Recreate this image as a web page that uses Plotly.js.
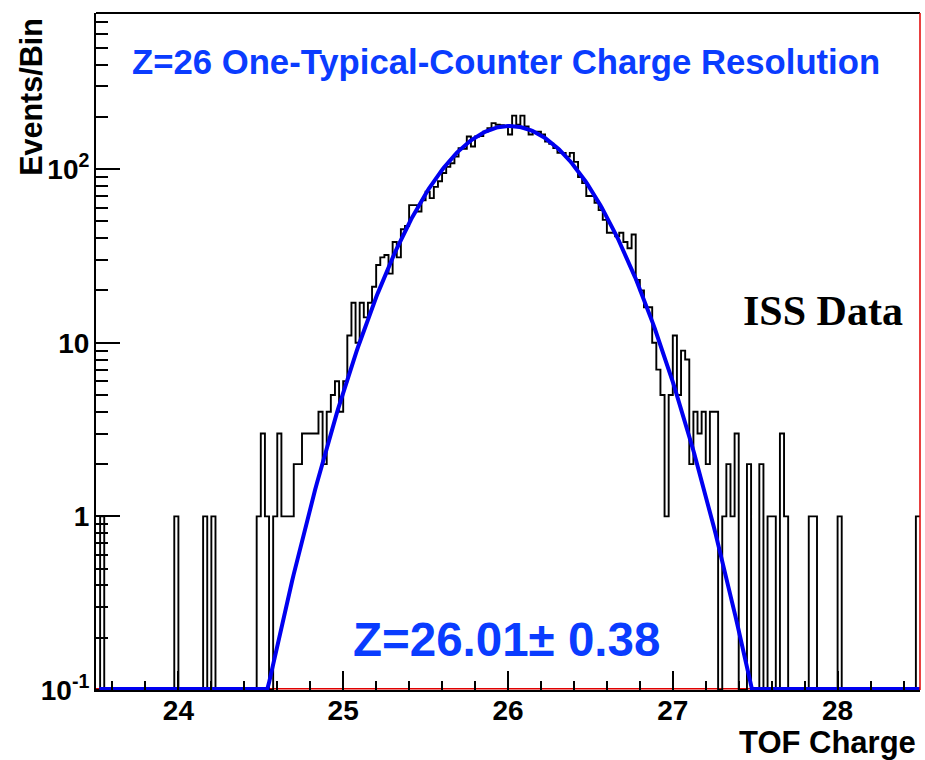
<!DOCTYPE html>
<html>
<head>
<meta charset="utf-8">
<script src="https://cdn.plot.ly/plotly-3.0.1.min.js"></script>
<style>
html,body{margin:0;padding:0;background:#ffffff;}
#chart{width:925px;height:760px;}
</style>
</head>
<body>
<div id="chart"></div>
<script>
// Histogram definition: 200 bins from 23.5 to 28.5 (TOF Charge)
const binLow = 23.5;
const binHigh = 28.5;
const nBins = 200;
// Events per bin (bin 0 .. bin 199)
const counts = [
  0,1,0,0,0,0,0,0,0,0,   0,0,0,0,0,0,0,0,0,1,
  0,0,0,0,0,0,1,0,1,0,   0,0,0,0,0,0,0,0,0,1,
  3,1,0,1,3,1,1,1,2,2,   3,3,3,3,4,2,4,5,6,4,
  6,11,17,10,17,14,17,21,28,31,  32,25,38,31,45,47,62,62,57,66,
  74,68,79,85,95,103,108,118,132,131,  154,135,154,155,164,172,184,180,179,177,
  158,203,180,203,176,158,164,164,158,144,  140,132,124,124,118,124,110,90,83,70,
  70,64,58,51,43,43,41,43,38,35,  42,23,20,16,16,10,7,5,1,5,
  11,5,9,8,2,4,3,4,2,4,   4,0,1,2,1,3,0,0,2,0,
  0,2,0,1,1,0,3,1,0,0,   0,0,0,1,1,0,0,0,0,0,
  1,0,0,0,0,0,0,0,0,0,   0,0,0,0,0,0,0,0,0,1
];
// Gaussian fit result shown on the chart
const fitAmplitude = 177;
const fitMean = 26.01;
const fitSigma = 0.38;

const titleText = 'Z=26 One-Typical-Counter Charge Resolution';
const fitLabel = 'Z=26.01\u00b1 0.38';
const dataLabel = 'ISS Data';
const xTitle = 'TOF Charge';
const yTitle = 'Events/Bin';
const xTickVals = [24, 25, 26, 27, 28];
const xTickText = ['24', '25', '26', '27', '28'];
const yTickVals = [0.1, 1, 10, 100];
const yTickText = ['10<sup>-1</sup>', '1', '10', '10<sup>2</sup>'];
const yMin = 0.1, yMax = 792;

// ---- build traces ----
const binW = (binHigh - binLow) / nBins;
const hx = [], hy = [];
for (let i = 0; i < nBins; i++) {
  hx.push(binLow + i * binW);
  hy.push(counts[i] > 0 ? counts[i] : yMin); // empty bins drawn on the frame floor (as ROOT does)
}
hx.push(binHigh);
hy.push(counts[nBins - 1] > 0 ? counts[nBins - 1] : yMin);

const fx = [], fy = [];
for (let x = binLow + 0.02; x <= binHigh + 1e-9; x += 0.01) {
  const v = fitAmplitude * Math.exp(-0.5 * Math.pow((x - fitMean) / fitSigma, 2));
  fx.push(x);
  fy.push(Math.max(v, yMin * 1.015));
}

const histTrace = {
  x: hx, y: hy, type: 'scatter', mode: 'lines',
  line: {shape: 'hv', color: '#000000', width: 1.9},
  hoverinfo: 'skip'
};
const fitTrace = {
  x: fx, y: fy, type: 'scatter', mode: 'lines',
  line: {color: '#0000f0', width: 4},
  hoverinfo: 'skip'
};

const minorY = [];
[0.1, 1, 10, 100].forEach(d => { for (let k = 2; k <= 9; k++) { const v = d * k; if (v < yMax) minorY.push(v); } });

const axisFont = {family: 'Liberation Sans, Arial, sans-serif', size: 28, color: '#000', weight: 'bold'};

const layout = {
  width: 925, height: 760,
  margin: {l: 96, r: 5, t: 13, b: 70, pad: 0},
  paper_bgcolor: '#ffffff', plot_bgcolor: '#ffffff',
  showlegend: false,
  xaxis: {
    range: [binLow, binHigh], tickmode: 'array', tickvals: xTickVals, ticktext: xTickText,
    ticks: 'inside', ticklen: 19, tickwidth: 2, tickcolor: '#000',
    minor: {dtick: 0.2, tick0: 23.6, ticks: 'inside', ticklen: 9, tickwidth: 2, tickcolor: '#000', showgrid: false},
    showgrid: false, zeroline: false, showline: true, linecolor: '#000', linewidth: 2,
    tickfont: axisFont, ticklabelstandoff: -6
  },
  yaxis: {
    type: 'log', range: [Math.log10(yMin), Math.log10(yMax)],
    tickmode: 'array', tickvals: yTickVals, ticktext: yTickText,
    ticks: 'inside', ticklen: 24, tickwidth: 2, tickcolor: '#000',
    minor: {tickmode: 'array', tickvals: minorY, ticks: 'inside', ticklen: 12, tickwidth: 2, tickcolor: '#000', showgrid: false},
    showgrid: false, zeroline: false, showline: true, linecolor: '#000', linewidth: 2,
    tickfont: axisFont, ticklabelstandoff: -1
  },
  shapes: [
    {type: 'line', xref: 'paper', yref: 'paper', x0: 0, x1: 1, y0: 1, y1: 1, line: {color: '#000', width: 2}},
    {type: 'line', xref: 'paper', yref: 'paper', x0: 1, x1: 1, y0: 0, y1: 1, line: {color: '#e00000', width: 1.5}},
    {type: 'line', xref: 'paper', yref: 'paper', x0: 0, x1: 1, y0: 0.002, y1: 0.002, layer: 'below', line: {color: '#e00000', width: 1.5}}
  ],
  annotations: [
    {text: titleText, xref: 'paper', yref: 'paper', x: 0.498, y: 0.928, xanchor: 'center', yanchor: 'middle', showarrow: false,
     font: {family: 'Liberation Sans, Arial, sans-serif', size: 34.7, color: '#0a3cff', weight: 'bold'}},
    {text: dataLabel, xref: 'paper', yref: 'paper', x: 0.882, y: 0.56, xanchor: 'center', yanchor: 'middle', showarrow: false,
     font: {family: 'Liberation Serif, Times New Roman, serif', size: 42, color: '#000', weight: 'bold'}},
    {text: fitLabel, xref: 'paper', yref: 'paper', x: 0.4976, y: 0.075, xanchor: 'center', yanchor: 'middle', showarrow: false,
     font: {family: 'Liberation Sans, Arial, sans-serif', size: 47.5, color: '#0a3cff', weight: 'bold'}},
    {text: yTitle, xref: 'paper', yref: 'paper', x: -0.079, y: 0.876, xanchor: 'center', yanchor: 'middle', textangle: -90, showarrow: false,
     font: {family: 'Liberation Sans, Arial, sans-serif', size: 30.5, color: '#000', weight: 'bold'}},
    {text: xTitle, xref: 'paper', yref: 'paper', x: 0.9976, y: -0.0775, xanchor: 'right', yanchor: 'middle', showarrow: false,
     font: {family: 'Liberation Sans, Arial, sans-serif', size: 31, color: '#000', weight: 'bold'}}
  ]
};

Plotly.newPlot('chart', [histTrace, fitTrace], layout, {staticPlot: true, displayModeBar: false});
</script>
</body>
</html>
